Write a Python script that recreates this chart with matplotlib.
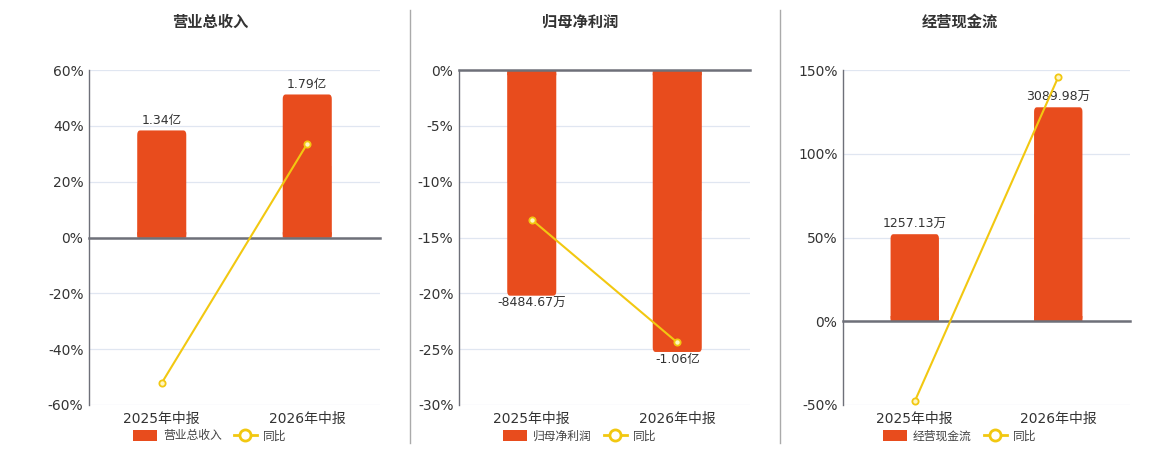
import numpy as np
import matplotlib
matplotlib.use('Agg')
import matplotlib.pyplot as plt
from matplotlib.patches import FancyBboxPatch
from matplotlib.lines import Line2D

plt.rcParams['font.family'] = ['DejaVu Sans', 'Noto Sans CJK SC']

# data
categories = ['2025年中报', '2026年中报']
titles = ['营业总收入', '归母净利润', '经营现金流']
bar_values = [[1.34, 1.79], [-0.848467, -1.06], [1257.13, 3089.98]]
bar_labels = [['1.34亿', '1.79亿'], ['-8484.67万', '-1.06亿'], ['1257.13万', '3089.98万']]
yoy_pct = [[-52.1, 33.6], [-13.4, -24.4], [-47.8, 145.8]]
pct_ticks = [[-60, -40, -20, 0, 20, 40, 60],
             [-30, -25, -20, -15, -10, -5, 0],
             [-50, 0, 50, 100, 150]]
# bar value per percent unit, so bars share the zero of the percent axis
bar_scale = [0.03494, 0.04198, 24.19]

BAR = '#E84C1D'
LINE = '#F2C811'
AXIS = '#6E7079'
GRID = '#E0E6F1'
TEXT = '#333333'

fig = plt.figure(figsize=(11.6, 4.5), dpi=100)
W, H = 1160, 450

panels = [(89, 380), (459, 750), (843, 1130)]
sections = [210, 580, 960]
top, bottom = 70, 405

for i in range(3):
    x0, x1 = panels[i]
    rect = [x0 / W, 1 - bottom / H, (x1 - x0) / W, (bottom - top) / H]
    ax = fig.add_axes(rect)
    bx = ax.twinx()
    lx = ax.twinx()

    lo, hi = pct_ticks[i][0], pct_ticks[i][-1]
    for a in (ax, lx):
        a.set_ylim(lo, hi)
        a.set_xlim(-0.5, 1.5)
    bx.set_ylim(lo * bar_scale[i], hi * bar_scale[i])
    bx.set_xlim(-0.5, 1.5)

    # base axis: grid + left ticks
    ax.set_yticks(pct_ticks[i])
    ax.set_yticklabels([f'{t}%' for t in pct_ticks[i]], fontsize=10, color=TEXT)
    ax.tick_params(axis='y', length=0, pad=4)
    ax.tick_params(axis='x', bottom=False, labelbottom=False)
    ax.grid(axis='y', color=GRID, linewidth=0.9)
    ax.set_axisbelow(True)
    for s in ('top', 'right', 'bottom'):
        ax.spines[s].set_visible(False)
    ax.spines['left'].set_color(AXIS)
    ax.spines['left'].set_linewidth(1)

    # bars with rounded outer corners
    bx.axis('off')
    width = 0.337
    for j, v in enumerate(bar_values[i]):
        rnd = abs(hi - lo) * bar_scale[i] * 0.013
        patch = FancyBboxPatch((j - width / 2, min(0, v)), width, abs(v),
                               boxstyle='round,pad=0,rounding_size=0.02',
                               mutation_aspect=rnd / 0.02,
                               facecolor=BAR, edgecolor='none', snap=False)
        bx.add_patch(patch)
        # square base, slightly inset so edges do not double up
        bx.bar(j, v * 0.5, width=width - 0.008, color=BAR, linewidth=0, snap=False)
        bx.bar(j, rnd * 1.2 * np.sign(v), width=width, color=BAR, linewidth=0, snap=False)
        if v >= 0:
            bx.annotate(bar_labels[i][j], (j, v), xytext=(0, 2.5), textcoords='offset points',
                        ha='center', va='bottom', fontsize=9, color=TEXT)
        else:
            bx.annotate(bar_labels[i][j], (j, v), xytext=(0, -1), textcoords='offset points',
                        ha='center', va='top', fontsize=9, color=TEXT)

    # yoy line
    lx.plot([0, 1], yoy_pct[i], color=LINE, linewidth=1.5, marker='o', markersize=4.5,
            markerfacecolor='#FFF6C0', markeredgecolor=LINE, markeredgewidth=1.3, zorder=5)
    lx.set_yticks([])
    for s in ('top', 'right', 'left'):
        lx.spines[s].set_visible(False)
    lx.spines['bottom'].set_position(('data', 0))
    lx.spines['bottom'].set_color(AXIS)
    lx.spines['bottom'].set_linewidth(1.8)
    lx.set_xticks([-0.5, 0.5, 1.5])
    lx.set_xticklabels([])
    lx.tick_params(axis='x', direction='out', length=4, color=AXIS, width=1)

    for j, c in enumerate(categories):
        ax.text(j, -0.02, c, transform=ax.get_xaxis_transform(), ha='center', va='top',
                fontsize=10, color=TEXT)

    fig.text(sections[i] / W, 1 - 22 / H, titles[i], ha='center', va='center',
             fontsize=11, fontweight='bold', color=TEXT, family='Noto Sans CJK SC')

    handles = [FancyBboxPatch((0, 0), 1, 1, boxstyle='round,pad=0', facecolor=BAR, edgecolor='none'),
               Line2D([0], [0], color=LINE, linewidth=2, marker='o', markersize=8,
                      markerfacecolor='white', markeredgecolor=LINE, markeredgewidth=2)]
    fig.legend(handles, [titles[i], '同比'], loc='center',
               bbox_to_anchor=(sections[i] / W, 1 - 436 / H), ncol=2, frameon=False,
               prop={'family': 'Noto Sans CJK SC', 'size': 8.5},
               handlelength=2.0, handleheight=1.1, columnspacing=1.0,
               handletextpad=0.5, labelcolor='#444444')

# dividers
for x in (410, 780):
    fig.add_artist(Line2D([x / W, x / W], [1 - 443 / H, 1 - 10 / H], color='#AAAAAA', linewidth=1))

fig.savefig('out.png', dpi=100)
